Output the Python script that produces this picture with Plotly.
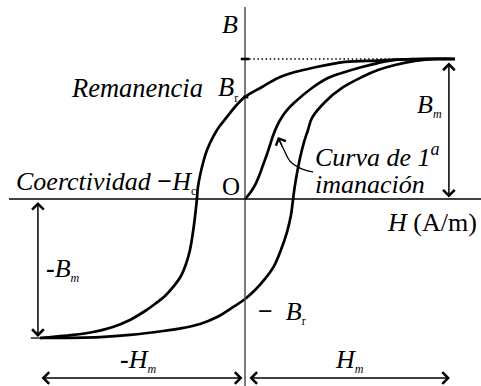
import plotly.graph_objects as go

# Hysteresis loop, H in units of Hm and B in units of Bm
Hm = 1.0
Bm = 1.0
Br = 0.729
Hc = 0.229

# Descending branch: from +Hm (saturation) down to -Hm
desc_H = [1.0, 0.833, 0.714, 0.633, 0.476, 0.319, 0.238, 0.157, 0.081, 0.0,
          -0.048, -0.086, -0.124, -0.152, -0.181, -0.2, -0.224, -0.229,
          -0.243, -0.262, -0.281, -0.305, -0.338, -0.381, -0.429, -0.476, -0.548,
          -0.629, -0.724, -0.819, -0.976]
desc_B = [1.0, 1.0, 0.996, 0.989, 0.979, 0.936, 0.907, 0.864, 0.8, 0.729,
          0.657, 0.586, 0.514, 0.443, 0.35, 0.257, 0.086, 0.0,
          -0.186, -0.364, -0.464, -0.55, -0.621, -0.693, -0.75, -0.8, -0.864,
          -0.914, -0.95, -0.971, -0.993]

# Ascending branch: from -Hm back up to +Hm
asc_H = [-0.976, -0.69, -0.548, -0.39, -0.295, -0.214, -0.133, -0.071, 0.0, 0.048,
         0.095, 0.138, 0.171, 0.2, 0.219, 0.229, 0.238, 0.262, 0.281, 0.3,
         0.319, 0.381, 0.462, 0.557, 0.633, 0.714, 0.81, 0.914, 1.0]
asc_B = [-0.993, -0.986, -0.971, -0.943, -0.921, -0.893, -0.843, -0.786, -0.714, -0.65,
         -0.571, -0.479, -0.364, -0.236, -0.114, 0.0, 0.1, 0.293, 0.407, 0.493,
         0.579, 0.693, 0.793, 0.871, 0.921, 0.957, 0.986, 1.0, 1.0]

# First magnetisation curve, from the origin to saturation
init_H = [0.0, 0.024, 0.048, 0.067, 0.086, 0.105, 0.119, 0.133, 0.152, 0.176,
          0.205, 0.238, 0.319, 0.395, 0.476, 0.557, 0.633, 0.714, 0.819, 1.0]
init_B = [0.0, 0.043, 0.1, 0.164, 0.243, 0.321, 0.386, 0.45, 0.521, 0.586,
          0.643, 0.693, 0.793, 0.864, 0.907, 0.943, 0.971, 0.993, 1.0, 1.0]

FONT = "Liberation Serif"
INK = "black"
CURVE_W = 2.7

fig = go.Figure()
for hx, by in ((desc_H, desc_B), (asc_H, asc_B), (init_H, init_B)):
    fig.add_trace(go.Scatter(x=hx, y=by, mode="lines",
                             line=dict(color=INK, width=CURVE_W, shape="spline", smoothing=1.0),
                             hoverinfo="skip", showlegend=False))

# leader of the "Curva de 1a imanación" callout
lead_x = [0.324, 0.262, 0.214, 0.186, 0.163]
lead_y = [0.193, 0.221, 0.271, 0.35, 0.42]
fig.add_trace(go.Scatter(x=lead_x, y=lead_y, mode="lines",
                         line=dict(color=INK, width=1.3, shape="spline"),
                         hoverinfo="skip", showlegend=False))

shapes = [
    # B axis
    dict(type="line", x0=0, x1=0, y0=-1.34, y1=1.371, line=dict(color="#505050", width=1.5)),
    # H axis
    dict(type="line", x0=-1.124, x1=1.13, y0=0, y1=0, line=dict(color=INK, width=1.5)),
    # saturation level reference
    dict(type="line", x0=0.02, x1=0.84, y0=Bm, y1=Bm,
         line=dict(color=INK, width=1.4, dash="1.5px,2.6px")),
    dict(type="line", x0=-0.02, x1=0.02, y0=Bm, y1=Bm, line=dict(color=INK, width=2.6)),
    dict(type="line", x0=-0.008, x1=0.016, y0=Br, y1=Br, line=dict(color=INK, width=3)),
    # -Bm level tick
    dict(type="line", x0=-1.02, x1=-0.976, y0=-Bm * 0.993, y1=-Bm * 0.993,
         line=dict(color=INK, width=1.3)),
]

annotations = []


def dbl_arrow(x0, y0, x1, y1):
    annotations.append(dict(x=x1, y=y1, ax=x0, ay=y0, xref="x", yref="y",
                            axref="x", ayref="y", text="", showarrow=True,
                            arrowhead=4, arrowside="end+start", arrowsize=1.5,
                            arrowwidth=1.5, arrowcolor=INK, standoff=0, startstandoff=0))


dbl_arrow(0.971, Bm * 0.985, 0.971, 0.01)          # Bm
dbl_arrow(-0.986, -0.01, -0.986, -Bm * 0.985)      # -Bm
dbl_arrow(-0.976 * Hm, -1.279, -0.012, -1.279)    # -Hm
dbl_arrow(0.014, -1.279, 0.976 * Hm, -1.279)      # Hm

# arrow tip of the callout
annotations.append(dict(x=0.157, y=0.443, ax=5, ay=11, xref="x", yref="y",
                        text="", showarrow=True, arrowhead=4, arrowsize=1.5,
                        arrowwidth=1.4, arrowcolor=INK, standoff=0))


def label(x, y, text, xanchor="center", size=26):
    annotations.append(dict(x=x, y=y, xref="x", yref="y", text=text, showarrow=False,
                            xanchor=xanchor, yanchor="middle",
                            font=dict(family=FONT, size=size, color=INK)))


SUB = '<sub><span style="font-size:12px">{}</span></sub>'
NB = "\u00a0"

label(-0.071, 1.25, "<i>B</i>")
label(-0.19, 0.79, "<i>Remanencia</i>", xanchor="right", size=26.5)
label(-0.14, 0.79, "<i>B</i>" + SUB.format("r"), xanchor="left", size=26.5)
label(-0.222, 0.121, "<i>Coerctividad </i><b>−</b><i>H</i>" + SUB.format("c"), xanchor="right")
label(-0.067, 0.086, "O", size=25)
label(0.322, 0.31, "<i>Curva de 1</i><sup><i>a</i></sup>", xanchor="left")
label(0.322, 0.105, "<i>imanación</i>", xanchor="left")
label(0.81, 0.67, "<i>B</i>" + SUB.format("<i>m</i>"), xanchor="left")
label(1.115, -0.17, "<i>H</i> (A/m)", xanchor="right")
label(-0.955, -0.5, "<b>-</b><i>B</i>" + SUB.format("<i>m</i>"), xanchor="left")
label(-0.607, -1.15, "<b>-</b><i>H</i>" + SUB.format("<i>m</i>"), xanchor="left")
label(0.419, -1.15, "<i>H</i>" + SUB.format("<i>m</i>"), xanchor="left")
label(0.05, -0.814, "<b>−</b>" + NB + NB + "<i>B</i>" + SUB.format("r"), xanchor="left")

fig.update_layout(
    width=481, height=386,
    margin=dict(l=0, r=0, t=0, b=0),
    paper_bgcolor="white", plot_bgcolor="white",
    xaxis=dict(range=[-245 / 210, 236 / 210], visible=False, fixedrange=True),
    yaxis=dict(range=[-187 / 140, 199 / 140], visible=False, fixedrange=True),
    shapes=shapes, annotations=annotations, showlegend=False,
)

fig.write_html("out.html")
